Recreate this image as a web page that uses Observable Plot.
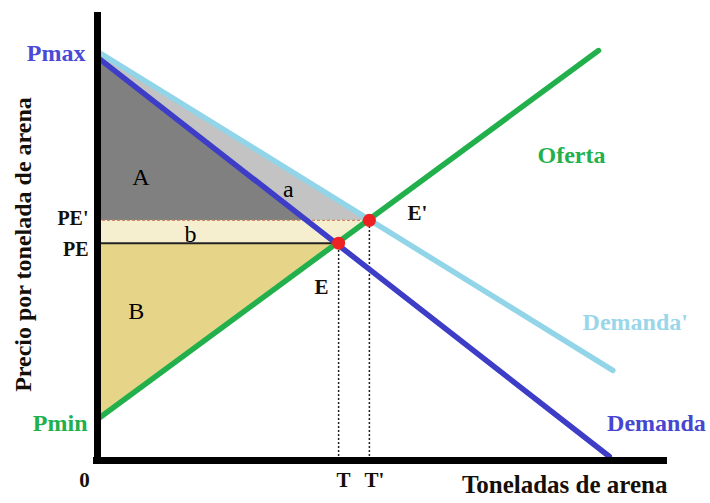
<!DOCTYPE html>
<html>
<head>
<meta charset="utf-8">
<script src="https://cdn.jsdelivr.net/npm/d3@7"></script>
<script src="https://cdn.jsdelivr.net/npm/@observablehq/plot@0.6"></script>
<style>
  html, body { margin: 0; padding: 0; background: #fff; }
</style>
</head>
<body>
<div id="chart"></div>
<script>
// Curves (quantity q, price p)
const demanda = [{q: 0, p: 90}, {q: 89.8, p: 0.9}];
const demandaPrima = [{q: 0, p: 91.3}, {q: 90.4, p: 20.1}];
const oferta = [{q: 0, p: 9.2}, {q: 87.9, p: 91.5}];

// Equilibria
const equilibrios = [{name: "E", q: 42.3, p: 48.5}, {name: "E'", q: 47.7, p: 53.6}];
const pMax = 90, pMaxPrima = 91.3, pMin = 9.2, pE = 48.5, pEPrima = 53.6;
const qE = 42.3, qEPrima = 47.7;
const qDemandaEnPEPrima = 36.7; // where Demanda crosses PE'

// Area labels
const areaLabels = [
  {name: "A", q: 7.6, p: 63.2},
  {name: "a", q: 33.5, p: 60.6},
  {name: "b", q: 16.3, p: 50.4},
  {name: "B", q: 6.8, p: 33.2}
];
// Curve labels
const curveLabels = [
  {name: "Oferta", q: 77.2, p: 68.1, color: "#22b04c"},
  {name: "Demanda'", q: 85.1, p: 30.8, color: "#9ad6ea"},
  {name: "Demanda", q: 89.4, p: 8.3, color: "#4646d0"}
];
const xTitle = "Toneladas de arena";
const yTitle = "Precio por tonelada de arena";

// Areas built from the values above
const areaA = [{q: 0, p: pMax}, {q: qDemandaEnPEPrima, p: pEPrima}, {q: 0, p: pEPrima}];
const areaa = [{q: 0, p: pMaxPrima}, {q: qEPrima, p: pEPrima}, {q: qDemandaEnPEPrima, p: pEPrima}, {q: 0, p: pMax}];
const areab = [{q: 0, p: pEPrima}, {q: qEPrima, p: pEPrima}, {q: qE, p: pE}, {q: 0, p: pE}];
const areaB = [{q: 0, p: pE}, {q: qE, p: pE}, {q: 0, p: pMin}];

const dark = "#141008";
const bold = {fontWeight: "bold", fontFamily: "Liberation Serif"};

const chart = Plot.plot({
  width: 710,
  height: 503,
  marginLeft: 97,
  marginRight: 43,
  marginTop: 12,
  marginBottom: 43,
  x: {domain: [0, 100], axis: null},
  y: {domain: [0, 100], axis: null},
  style: {fontFamily: "Liberation Serif", background: "#fff", overflow: "visible"},
  marks: [
    Plot.line(areaA, {x: "q", y: "p", fill: "#808080", stroke: "none"}),
    Plot.line(areaa, {x: "q", y: "p", fill: "#c3c3c3", stroke: "none"}),
    Plot.line(areab, {x: "q", y: "p", fill: "#f5efd0", stroke: "none"}),
    Plot.line(areaB, {x: "q", y: "p", fill: "#e6d488", stroke: "none"}),
    // price lines
    Plot.ruleY([pEPrima], {x1: 0, x2: qEPrima, stroke: "#d08a60", strokeWidth: 1.2, strokeDasharray: "3,2"}),
    Plot.ruleY([pE], {x1: 0, x2: qE, stroke: "#222", strokeWidth: 2}),
    // quantity dotted lines
    Plot.ruleX(equilibrios, {x: "q", y1: 0, y2: "p", stroke: "#222", strokeWidth: 1.5, strokeDasharray: "2,2"}),
    // curves
    Plot.line(demandaPrima, {x: "q", y: "p", stroke: "#92d5e8", strokeWidth: 5.5}),
    Plot.line(demanda, {x: "q", y: "p", stroke: "#3d3dc8", strokeWidth: 5.5}),
    Plot.line(oferta, {x: "q", y: "p", stroke: "#22b04c", strokeWidth: 5.5}),
    // equilibrium points
    Plot.dot(equilibrios, {x: "q", y: "p", r: 6.5, fill: "#ee2222", stroke: "none"}),
    // axes
    Plot.ruleY([0], {x1: -0.7, x2: 100, stroke: "#000", strokeWidth: 7}),
    Plot.ruleX([0], {y1: -0.7, y2: 100, stroke: "#000", strokeWidth: 7}),
    // price labels
    Plot.text(["Pmax"], {x: 0, y: pMax, dx: -12, dy: -4, text: d => d, textAnchor: "end", fontSize: 24, fill: "#4a4ad6", ...bold}),
    Plot.text(["PE'"], {x: 0, y: pEPrima, dx: -9, dy: -2, text: d => d, textAnchor: "end", fontSize: 20, fill: dark, ...bold}),
    Plot.text(["PE"], {x: 0, y: pE, dx: -9, dy: 6, text: d => d, textAnchor: "end", fontSize: 20, fill: dark, ...bold}),
    Plot.text(["Pmin"], {x: 0, y: pMin, dx: -10, dy: 4, text: d => d, textAnchor: "end", fontSize: 24, fill: "#22b04c", ...bold}),
    Plot.text(["0"], {x: 0, y: 0, dx: -13, dy: 20, text: d => d, fontSize: 21, fill: dark, ...bold}),
    // equilibrium labels
    Plot.text(equilibrios.slice(0, 1), {x: "q", y: "p", text: "name", dx: -17, dy: 44, fontSize: 21, fill: dark, ...bold}),
    Plot.text(equilibrios.slice(1), {x: "q", y: "p", text: "name", dx: 48, dy: -7, fontSize: 21, fill: dark, ...bold}),
    Plot.text(equilibrios, {x: "q", y: 0, text: d => d.name === "E" ? "T" : "T'", dx: 5, dy: 20, fontSize: 21, fill: dark, ...bold}),
    // area labels
    Plot.text(areaLabels, {x: "q", y: "p", text: "name", fontSize: 24, fill: "#000", fontFamily: "Liberation Serif"}),
    // curve labels
    Plot.text(curveLabels, {x: "q", y: "p", text: "name", fill: "color", textAnchor: "start", fontSize: 24, ...bold}),
    // axis titles
    Plot.text([xTitle], {frameAnchor: "bottom-right", text: d => d, textAnchor: "end", dy: 32, fontSize: 25, fill: dark, ...bold}),
    Plot.text([yTitle], {frameAnchor: "left", text: d => d, textAnchor: "middle", rotate: -90, dx: -74, dy: 8, fontSize: 24, fill: dark, ...bold})
  ]
});
document.getElementById("chart").appendChild(chart);
</script>
</body>
</html>
